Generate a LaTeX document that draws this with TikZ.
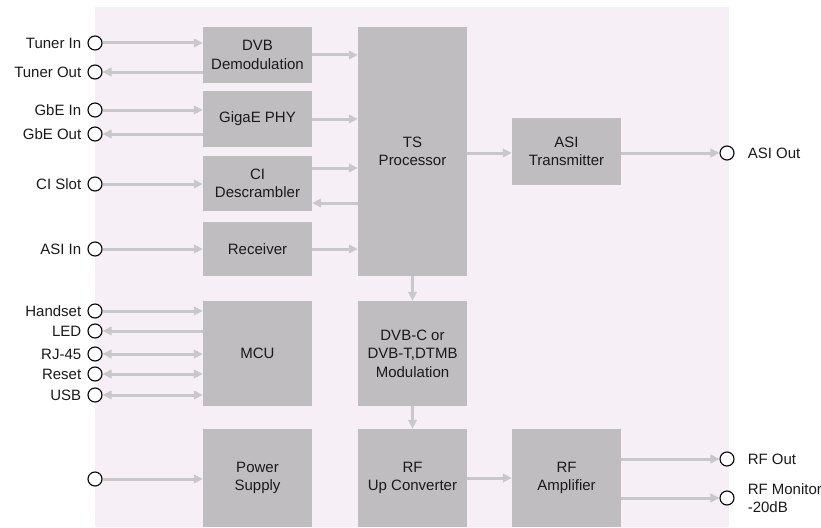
\documentclass[tikz,border=0pt]{standalone}
\usepackage{fontspec}
\setmainfont{Liberation Sans}
\usetikzlibrary{arrows.meta}
\definecolor{bgpink}{HTML}{F6EFF6}
\definecolor{blockgray}{HTML}{BFBDBF}
\definecolor{flowgray}{HTML}{C9C7C9}
\definecolor{inkgray}{HTML}{1A1A1A}

\begin{document}
\begin{tikzpicture}[x=1pt, y=-1pt,
  font=\fontsize{15}{18.5}\selectfont, text=inkgray,
  block/.style ={fill=blockgray, minimum width=109pt, inner sep=0pt,
                 align=center},
  port/.style  ={circle, draw=black, fill=white, line width=1.1pt,
                 minimum size=14pt, inner sep=0pt},
  lbl/.style   ={text=inkgray, inner sep=0pt},
  flow/.style  ={-{Triangle[length=9pt,width=8.5pt]}, draw=flowgray,
                 line width=3pt},
  flowbi/.style={{Triangle[length=9pt,width=8.5pt]}-{Triangle[length=9pt,width=8.5pt]},
                 draw=flowgray, line width=3pt}
]
  \useasboundingbox (0,0) rectangle (821,527);
  \fill[bgpink] (95,7) rectangle (729,527);

  % blocks
  \node[block, minimum height=56pt]  (dvb)  at (257.5,55)    {DVB\\Demodulation};
  \node[block, minimum height=56pt]  (gige) at (257.5,119)   {GigaE PHY};
  \node[block, minimum height=55pt]  (ci)   at (257.5,183.5) {CI\\Descrambler};
  \node[block, minimum height=54pt]  (rx)   at (257.5,249)   {Receiver};
  \node[block, minimum height=105pt] (mcu)  at (257.5,353.5) {MCU};
  \node[block, minimum height=98pt]  (psu)  at (257.5,478)   {Power\\Supply};
  \node[block, minimum height=249pt] (ts)   at (412.5,151.5) {TS\\Processor};
  \node[block, minimum height=105pt] (mod)  at (412.5,353.5) {DVB-C or\\DVB-T,DTMB\\Modulation};
  \node[block, minimum height=98pt]  (upc)  at (412.5,478)   {RF\\Up Converter};
  \node[block, minimum height=67pt]  (atx)  at (566.5,151.5) {ASI\\Transmitter};
  \node[block, minimum height=98pt]  (amp)  at (566.5,478)   {RF\\Amplifier};

  % ports, left side
  \node[port, label={[lbl, label distance=6pt]left:Tuner In}]  (tin)  at (95,43)  {};
  \node[port, label={[lbl, label distance=6pt]left:Tuner Out}] (tout) at (95,72)  {};
  \node[port, label={[lbl, label distance=6pt]left:GbE In}]    (gin)  at (95,110) {};
  \node[port, label={[lbl, label distance=6pt]left:GbE Out}]   (gout) at (95,134) {};
  \node[port, label={[lbl, label distance=6pt]left:CI Slot}]   (cis)  at (95,184) {};
  \node[port, label={[lbl, label distance=6pt]left:ASI In}]    (ain)  at (95,249) {};
  \node[port, label={[lbl, label distance=6pt]left:Handset}]   (hs)   at (95,311) {};
  \node[port, label={[lbl, label distance=6pt]left:LED}]       (led)  at (95,331) {};
  \node[port, label={[lbl, label distance=6pt]left:RJ-45}]     (rj)   at (95,354) {};
  \node[port, label={[lbl, label distance=6pt]left:Reset}]     (rst)  at (95,374) {};
  \node[port, label={[lbl, label distance=6pt]left:USB}]       (usb)  at (95,395) {};
  \node[port]                                                  (pwr)  at (95,479) {};

  % ports, right side
  \node[port, label={[lbl, label distance=13pt]right:ASI Out}] (aout) at (727,153) {};
  \node[port, label={[lbl, label distance=13pt]right:RF Out}]  (rfo)  at (727,459) {};
  \node[port, label={[lbl, label distance=13pt, align=left]right:RF Monitor\\-20dB}] (rfm) at (727,498) {};

  % inputs and outputs
  \draw[flow] (tin)  -- (tin -| dvb.west);
  \draw[flow] (tout -| dvb.west) -- (tout);
  \draw[flow] (gin)  -- (gin -| gige.west);
  \draw[flow] (gout -| gige.west) -- (gout);
  \draw[flow] (cis)  -- (cis -| ci.west);
  \draw[flow] (ain)  -- (ain -| rx.west);
  \draw[flow] (hs)   -- (hs -| mcu.west);
  \draw[flow] (led -| mcu.west) -- (led);
  \draw[flowbi] (rj)  -- (rj -| mcu.west);
  \draw[flowbi] (rst) -- (rst -| mcu.west);
  \draw[flowbi] (usb) -- (usb -| mcu.west);
  \draw[flow] (pwr)  -- (pwr -| psu.west);

  % into and out of the TS processor
  \draw[flow] (dvb.east)  -- (dvb.east -| ts.west);
  \draw[flow] (gige.east) -- (gige.east -| ts.west);
  \draw[flow] ([yshift=15.5pt]ci.east) -- ([yshift=15.5pt]ci.east -| ts.west);
  \draw[flow] ([yshift=-19.5pt]ci.east -| ts.west) -- ([yshift=-19.5pt]ci.east);
  \draw[flow] (rx.east)   -- (rx.east -| ts.west);
  \draw[flow] (aout -| ts.east) -- (aout -| atx.west);
  \draw[flow] (aout -| atx.east) -- (aout);
  \draw[flow] (ts.south)  -- (mod.north);
  \draw[flow] (mod.south) -- (upc.north);
  \draw[flow] (upc.east)  -- (amp.west);
  \draw[flow] (rfo -| amp.east) -- (rfo);
  \draw[flow] (rfm -| amp.east) -- (rfm);
\end{tikzpicture}
\end{document}
